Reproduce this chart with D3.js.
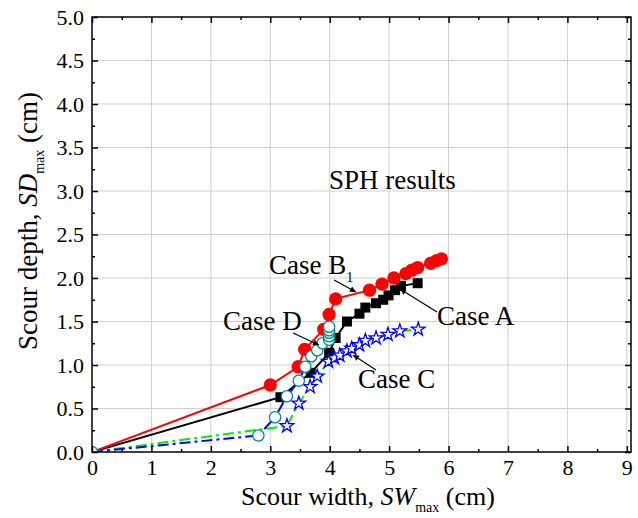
<!DOCTYPE html>
<html>
<head>
<meta charset="utf-8">
<script src="https://cdn.jsdelivr.net/npm/d3@7"></script>
<style>
  body { margin: 0; background: #fff; }
  svg text { font-family: "Liberation Serif", "Times New Roman", Times, "DejaVu Serif", serif !important; }
</style>
</head>
<body>
<svg id="chart" width="638" height="518"></svg>
<script>
// ---- data (x = SW_max, y = SD_max, cm) ----
const caseA = [
  [0, 0], [3.17, 0.63], [3.68, 0.91], [3.99, 1.14], [4.1, 1.31], [4.29, 1.5],
  [4.5, 1.59], [4.6, 1.66], [4.78, 1.71], [4.9, 1.75], [4.99, 1.8], [5.1, 1.86],
  [5.2, 1.91], [5.48, 1.94]
];
const caseB1 = [
  [0, 0], [3.0, 0.77], [3.47, 0.98], [3.58, 1.18], [3.9, 1.41], [3.99, 1.58],
  [4.1, 1.76], [4.67, 1.86], [4.88, 1.93], [5.08, 2.0], [5.28, 2.05], [5.38, 2.09],
  [5.48, 2.12], [5.7, 2.17], [5.8, 2.2], [5.88, 2.22]
];
const caseC = [
  [0, 0], [3.28, 0.3], [3.48, 0.56], [3.67, 0.75], [3.79, 0.87], [3.98, 1.04],
  [4.08, 1.08], [4.17, 1.11], [4.29, 1.16], [4.37, 1.19], [4.5, 1.23], [4.6, 1.28],
  [4.78, 1.31], [4.98, 1.35], [5.18, 1.39], [5.49, 1.41]
];
const caseD = [
  [0, 0], [2.8, 0.19], [3.08, 0.4], [3.28, 0.64], [3.48, 0.82], [3.59, 0.98],
  [3.69, 1.1], [3.79, 1.17], [3.88, 1.25], [3.99, 1.29], [3.99, 1.33], [3.99, 1.37],
  [3.99, 1.4], [3.99, 1.44]
];
const xTicks = [0, 1, 2, 3, 4, 5, 6, 7, 8, 9];
const yTicks = [0, 0.5, 1, 1.5, 2, 2.5, 3, 3.5, 4, 4.5, 5];

const FONT = '"Liberation Serif", "Times New Roman", Times, serif';

// series styling
const series = [
  { data: caseA, line: '#000', dash: null, symbol: 'square', stroke: '#000', fill: '#000', originMark: false },
  { data: caseB1, line: '#ff0000', dash: null, symbol: 'circle', stroke: '#ff0000', fill: '#ff0000', originMark: false },
  { data: caseC, line: '#00ee00', dash: '11,4,3,4', symbol: 'star', stroke: '#0000ff', fill: '#fff', originMark: false },
  { data: caseD, line: '#0000ff', dash: '11,4,3,4', symbol: 'open', stroke: '#008b8b', fill: '#fff', originMark: true }
];

const margin = { top: 17, right: 7, bottom: 66, left: 92 };
const width = 638 - margin.left - margin.right;
const height = 518 - margin.top - margin.bottom;

const svg = d3.select('#chart').attr('font-family', FONT);
const g = svg.append('g').attr('transform', `translate(${margin.left},${margin.top})`);

const x = d3.scaleLinear().domain([0, 9.07]).range([0, width]);
const y = d3.scaleLinear().domain([0, 5]).range([height, 0]);

// grid
g.append('g').selectAll('line').data(xTicks.filter(d => d > 0)).enter().append('line')
  .attr('x1', d => x(d)).attr('x2', d => x(d)).attr('y1', 0).attr('y2', height)
  .attr('stroke', '#cfcfcf').attr('stroke-width', 1);
g.append('g').selectAll('line').data(yTicks.filter(d => d > 0 && d < 5)).enter().append('line')
  .attr('x1', 0).attr('x2', width).attr('y1', d => y(d)).attr('y2', d => y(d))
  .attr('stroke', '#cfcfcf').attr('stroke-width', 1);

g.append('defs').append('clipPath').attr('id', 'plotClip')
  .append('rect').attr('width', width).attr('height', height);

// lines and symbols
const line = d3.line().x(d => x(d[0])).y(d => y(d[1]));
const plot = g.append('g').attr('clip-path', 'url(#plotClip)');

series.forEach(s => {
  plot.append('path').datum(s.data)
    .attr('d', line)
    .attr('fill', 'none')
    .attr('stroke', s.line)
    .attr('stroke-width', 2)
    .attr('stroke-dasharray', s.dash);

  const pts = s.originMark ? s.data : s.data.filter(d => d[0] !== 0 || d[1] !== 0);
  const sel = plot.append('g').selectAll('path').data(pts).enter().append('path')
    .attr('transform', d => `translate(${x(d[0])},${y(d[1])})`);
  if (s.symbol === 'square') {
    sel.attr('d', d3.symbol(d3.symbolSquare, 100)).attr('fill', s.fill);
  } else if (s.symbol === 'circle') {
    sel.attr('d', d3.symbol(d3.symbolCircle, 140)).attr('fill', s.fill);
  } else if (s.symbol === 'star') {
    sel.attr('d', d3.symbol(d3.symbolStar, 58)).attr('fill', s.fill)
      .attr('stroke', s.stroke).attr('stroke-width', 1.3);
  } else {
    sel.attr('d', d3.symbol(d3.symbolCircle, 100)).attr('fill', s.fill)
      .attr('stroke', s.stroke).attr('stroke-width', 1.3);
  }
});

// axes with inward ticks on all four sides
const xMinor = d3.range(0.5, 9.07, 1);
const yMinor = d3.range(0.25, 5, 0.5);
const bottom = d3.axisBottom(x).tickValues(xTicks).tickFormat(d3.format('d')).tickSize(-6).tickPadding(7);
const left = d3.axisLeft(y).tickValues(yTicks).tickFormat(d3.format('.1f')).tickSize(-6).tickPadding(8);

g.append('g').attr('transform', `translate(0,${height})`).call(bottom);
g.append('g').call(left);
g.append('g').attr('transform', `translate(0,${height})`)
  .call(d3.axisBottom(x).tickValues(xMinor).tickFormat('').tickSize(-3));
g.append('g').call(d3.axisLeft(y).tickValues(yMinor).tickFormat('').tickSize(-3));
g.append('g').call(d3.axisTop(x).tickValues(xTicks).tickFormat('').tickSize(-6));
g.append('g').call(d3.axisTop(x).tickValues(xMinor).tickFormat('').tickSize(-3));
g.append('g').attr('transform', `translate(${width},0)`)
  .call(d3.axisRight(y).tickValues(yTicks).tickFormat('').tickSize(-6));
g.append('g').attr('transform', `translate(${width},0)`)
  .call(d3.axisRight(y).tickValues(yMinor).tickFormat('').tickSize(-3));

g.selectAll('.domain').remove();
g.selectAll('.tick line').attr('stroke', '#000').attr('stroke-width', 1.5);
g.selectAll('g').attr('font-family', FONT);
g.selectAll('.tick text').attr('font-size', 22).attr('fill', '#000');

g.append('rect').attr('width', width).attr('height', height)
  .attr('fill', 'none').attr('stroke', '#000').attr('stroke-width', 1.5);

// axis titles
const xt = svg.append('text').attr('x', 368).attr('y', 505).attr('text-anchor', 'middle')
  .attr('font-size', 26);
xt.append('tspan').text('Scour width, ');
xt.append('tspan').attr('font-style', 'italic').text('SW');
xt.append('tspan').attr('font-size', 14).attr('dy', 7).text('max');
xt.append('tspan').attr('dy', -7).text(' (cm)');

const yt = svg.append('text').attr('transform', 'translate(37,221) rotate(-90)')
  .attr('text-anchor', 'middle').attr('font-size', 27);
yt.append('tspan').text('Scour depth, ');
yt.append('tspan').attr('font-style', 'italic').text('SD');
yt.append('tspan').attr('font-size', 14).attr('dy', 7).text('max');
yt.append('tspan').attr('dy', -7).text(' (cm)');

// annotations
svg.append('text').attr('x', 329).attr('y', 189).attr('font-size', 27).text('SPH results');

const defs = svg.append('defs');
defs.append('marker').attr('id', 'arrow').attr('viewBox', '0 0 10 10')
  .attr('refX', 10).attr('refY', 5).attr('markerWidth', 10).attr('markerHeight', 6)
  .attr('markerUnits', 'userSpaceOnUse').attr('orient', 'auto')
  .append('path').attr('d', 'M0,0 L10,5 L0,10 Z').attr('fill', '#000');

const labels = [
  { text: 'Case B', sub: '1', lx: 269, ly: 274, ax1: 334, ay1: 280, ax2: 356, ay2: 292 },
  { text: 'Case D', sub: null, lx: 223, ly: 330, ax1: 293, ay1: 333, ax2: 319, ay2: 345 },
  { text: 'Case A', sub: null, lx: 437, ly: 325, ax1: 437, ay1: 312, ax2: 400, ay2: 289 },
  { text: 'Case C', sub: null, lx: 358, ly: 388, ax1: 376, ay1: 370, ax2: 353, ay2: 355 }
];
labels.forEach(l => {
  const t = svg.append('text').attr('x', l.lx).attr('y', l.ly).attr('font-size', 27);
  t.append('tspan').text(l.text);
  if (l.sub) t.append('tspan').attr('font-size', 14).attr('dy', 8).text(l.sub);
  svg.append('line').attr('x1', l.ax1).attr('y1', l.ay1).attr('x2', l.ax2).attr('y2', l.ay2)
    .attr('stroke', '#000').attr('stroke-width', 1.2).attr('marker-end', 'url(#arrow)');
});
</script>
</body>
</html>
